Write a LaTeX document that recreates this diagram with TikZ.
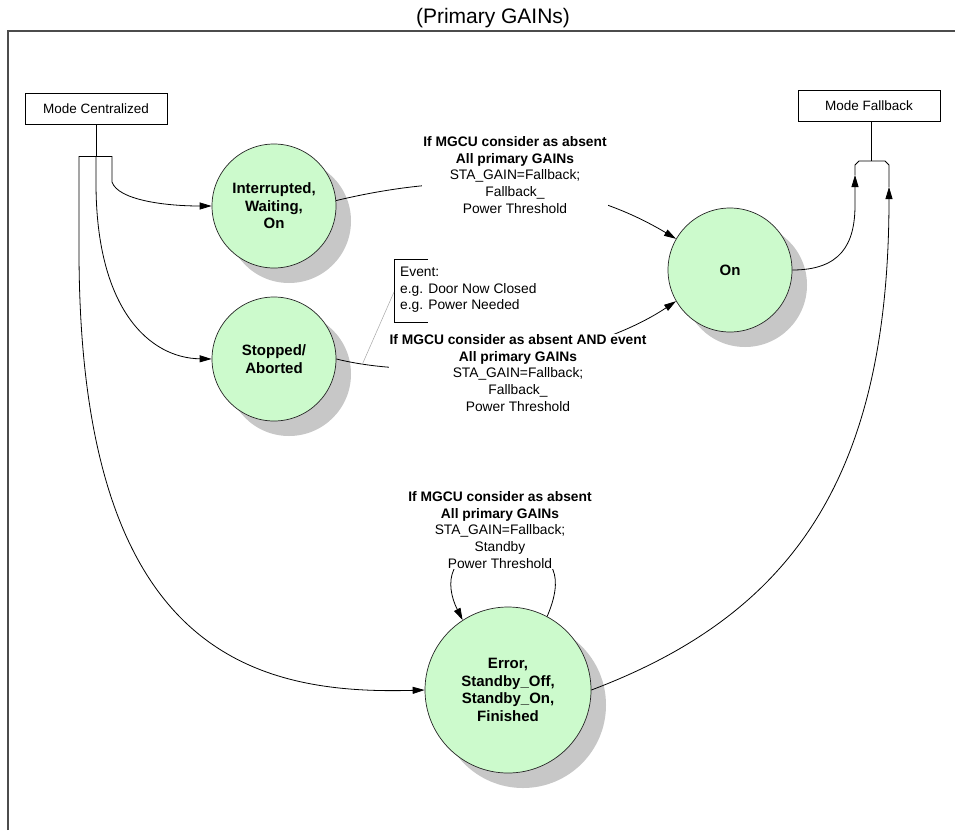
\documentclass[tikz,border=0pt]{standalone}
\usepackage{fontspec}
\setmainfont{Liberation Sans}
\usetikzlibrary{arrows.meta,shadows}
\definecolor{stfill}{RGB}{204,250,204}
\begin{document}
\begin{tikzpicture}[x=1pt,y=-1pt,
  state/.style={circle, draw=black!85, line width=0.7pt, fill=stfill, inner sep=0pt, align=center,
    font=\fontsize{15}{17.5}\selectfont\bfseries,
    drop shadow={shadow xshift=15pt, shadow yshift=-15pt, fill=black!22, opacity=1}},
  modebox/.style={draw, line width=0.8pt, minimum width=142pt, minimum height=31pt, inner sep=0pt,
    font=\fontsize{13.5}{16}\selectfont},
  lbl/.style={fill=white, inner sep=1pt, align=center, font=\fontsize{13.8}{16.6}\selectfont},
  conn/.style={line width=0.8pt},
  arr/.style={line width=0.8pt, -{Triangle[length=12pt,width=7pt]}},
  note/.style={gray!70, line width=0.5pt}
]
\useasboundingbox (0,0) rectangle (955,830);
% frame and title
\draw[line width=1.5pt, black!70] (8,830) -- (8,31) -- (955,31);
\node[font=\fontsize{21}{24}\selectfont] (title) at (493,18) {(Primary GAINs)};

% mode boxes
\node[modebox] (mc) at (96,109) {Mode Centralized};
\node[modebox] (mf) at (869,105.5) {Mode Fallback};

% states
\node[state, minimum size=124pt] (int) at (274,206) {Interrupted,\\Waiting,\\On};
\node[state, minimum size=124pt] (stop) at (274,359) {Stopped/\\Aborted};
\node[state, minimum size=124pt] (on) at (730,270) {On};
\node[state, minimum size=166pt] (err) at (508,690) {Error,\\Standby\_Off,\\Standby\_On,\\Finished};

% junction from Mode Centralized
\coordinate (jc) at (96,156);
\coordinate (bl) at (79,156);
\coordinate (br) at (112,156);
\draw[conn] (mc.south) -- (jc);
\draw[conn] (bl) -- (br);
\draw[arr] (br) -- (112,182) .. controls (118,200) and (165,206) .. (int.west);
\draw[arr] (jc) -- (96,183) .. controls (96,310) and (150,358) .. (stop.west);
\draw[arr] (bl) -- (79,250) .. controls (79,650) and (250,695) .. (err.west);

% junction into Mode Fallback
\coordinate (fl) at (855,175);
\coordinate (fr) at (889,187);
\coordinate (fj) at (871,161);
\draw[conn] (mf.south -| fj) -- (fj);
\draw[conn] (fl) -- (855,165) -- (859,161) -- (885,161) -- (889,165) -- (fr);
\draw[arr] (on.east) .. controls (840,270) and (855,245) .. (855,205) -- (fl);
\draw[arr] (err.east) .. controls (790,615) and (889,480) .. (fr);

% transitions to On
\draw[arr] (int.5) .. controls (481,166) and (588,186) .. (on.150);
\draw[arr] (stop.east) .. controls (438,384) and (591,358) .. (on.210);

% self loop on err
\coordinate (lt) at (503,548);
\draw[conn] (err.62) .. controls (562,582) and (562,548) .. (lt);
\draw[arr] (lt) .. controls (445,548) and (445,585) .. (err.123);

% event note
\coordinate (evp) at (394,292);
\coordinate (evq) at (362,365);
\draw[conn] (428,259) -- (394,259) -- (394,322) -- (428,322);
\node[anchor=west, align=left, inner sep=0pt, font=\fontsize{13.8}{16.6}\selectfont] (ev) at (400,290)
  {Event:\\e.g. Door Now Closed\\e.g. Power Needed};
\draw[note] (evp) -- (evq);

% labels
\node[lbl] (l1) at (515,175) {\textbf{If MGCU consider as absent}\\\textbf{All primary GAINs}\\STA\_GAIN=Fallback;\\Fallback\_\\Power Threshold};
\node[lbl] (l2) at (518,373) {\textbf{If MGCU consider as absent AND event}\\\textbf{All primary GAINs}\\STA\_GAIN=Fallback;\\Fallback\_\\Power Threshold};
\node[lbl] (l3) at (500,530) {\textbf{If MGCU consider as absent}\\\textbf{All primary GAINs}\\STA\_GAIN=Fallback;\\Standby\\Power Threshold};
\end{tikzpicture}
\end{document}
